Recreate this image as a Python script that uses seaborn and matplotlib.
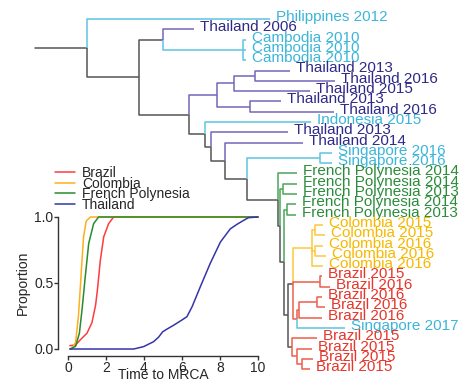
import pandas as pd
import matplotlib
matplotlib.use('Agg')
import matplotlib.pyplot as plt
import seaborn as sns

# Dados das pontas da árvore (de cima para baixo)
tip_labels = ['Philippines 2012', 'Thailand 2006',
              'Cambodia 2010', 'Cambodia 2010', 'Cambodia 2010',
              'Thailand 2013', 'Thailand 2016', 'Thailand 2015',
              'Thailand 2013', 'Thailand 2016', 'Indonesia 2015',
              'Thailand 2013', 'Thailand 2014',
              'Singapore 2016', 'Singapore 2016',
              'French Polynesia 2014', 'French Polynesia 2014',
              'French Polynesia 2013', 'French Polynesia 2014',
              'French Polynesia 2013',
              'Colombia 2015', 'Colombia 2015', 'Colombia 2016',
              'Colombia 2016', 'Colombia 2016',
              'Brazil 2015', 'Brazil 2016', 'Brazil 2016', 'Brazil 2016',
              'Brazil 2016', 'Singapore 2017',
              'Brazil 2015', 'Brazil 2015', 'Brazil 2015', 'Brazil 2015']
tip_group = ['asia', 'thai', 'asia', 'asia', 'asia',
             'thai', 'thai', 'thai', 'thai', 'thai', 'asia',
             'thai', 'thai', 'asia', 'asia',
             'fp', 'fp', 'fp', 'fp', 'fp',
             'col', 'col', 'col', 'col', 'col',
             'bra', 'bra', 'bra', 'bra', 'bra', 'asia',
             'bra', 'bra', 'bra', 'bra']
tip_depth = [23.5, 15.9, 21.1, 21.1, 21.1,
             25.5, 30.0, 27.5, 24.6, 29.9, 27.6,
             25.3, 26.8, 29.7, 29.7,
             26.2, 26.2, 26.2, 26.1, 26.1,
             28.8, 29.0, 28.8, 29.1, 28.8,
             28.7, 29.5, 28.7, 29.0, 28.7, 31.0,
             28.2, 27.7, 27.8, 27.5]

# Nós internos: profundidade, filhos e cor do ramo
node_names = ['root', 'N1', 'N2', 'CAM', 'N5', 'N6', 'N7', 'N8', 'N10',
              'N9', 'N11', 'N12', 'N13', 'SG', 'N14', 'N15', 'FP1', 'N16',
              'FP2', 'N17', 'Y', 'COL', 'CA', 'CB', 'B1', 'W', 'B2', 'B2a',
              'Z', 'Z1', 'Z2']
node_depth = [5.2, 10.4, 12.8, 20.8, 15.4, 18.2, 19.9, 22.0, 21.5,
              17.0, 17.6, 19.0, 21.2, 28.5, 24.3, 24.5, 24.8, 24.9,
              25.2, 25.3, 25.8, 27.7, 28.0, 28.0, 28.5, 26.2, 26.4, 28.2,
              25.7, 26.2, 26.7]
node_children = [[0, 'N1'], ['N2', 'N5'], [1, 'CAM'], [2, 3, 4],
                 ['N6', 'N9'], ['N7', 'N10'], ['N8', 7], [5, 6], [8, 9],
                 [10, 'N11'], [11, 'N12'], [12, 'N13'], ['SG', 'N14'],
                 [13, 14], [15, 'N15'], ['FP1', 'N16'], [16, 17],
                 ['FP2', 'N17'], [18, 19], ['Y', 'Z'],
                 ['COL', 'B1', 'W'], ['CA', 'CB', 24], [20, 21], [22, 23],
                 [25, 26], ['B2', 30], ['B2a', 29], [27, 28],
                 [31, 'Z1'], [32, 'Z2'], [33, 34]]
node_group = ['grey', 'grey', 'grey', 'asia', 'grey', 'thai', 'thai',
              'thai', 'thai', 'grey', 'grey', 'grey', 'grey', 'asia',
              'grey', 'grey', 'fp', 'grey', 'fp', 'grey', 'grey', 'col',
              'col', 'col', 'bra', 'bra', 'bra', 'bra', 'grey', 'bra', 'bra']

line_col = {'grey': '#555555', 'asia': '#5EC4E2', 'thai': '#7466BC',
            'fp': '#4AA558', 'col': '#FCC73C', 'bra': '#EE5E4C'}
text_col = {'asia': '#3CB6D8', 'thai': '#2E2A88', 'fp': '#2B8C3B',
            'col': '#F6B800', 'bra': '#E6352A'}

# Curvas de tempo até o MRCA
brazil_t = [0.1, 0.4, 0.65, 1.0, 1.26, 1.45, 1.55, 1.7, 1.88, 2.14, 2.4, 10]
brazil_p = [0.025, 0.03, 0.07, 0.12, 0.2, 0.33, 0.45, 0.67, 0.85, 0.95, 1.0, 1.0]
colombia_t = [0.2, 0.4, 0.55, 0.65, 0.75, 0.82, 0.96, 1.18, 10]
colombia_p = [0.0, 0.05, 0.25, 0.47, 0.7, 0.85, 0.97, 1.0, 1.0]
fp_t = [0.1, 0.4, 0.6, 0.74, 0.91, 1.09, 1.35, 1.61, 10]
fp_p = [0.0, 0.02, 0.12, 0.3, 0.55, 0.8, 0.95, 1.0, 1.0]
thai_t = [0.1, 3.46, 3.98, 4.5, 4.77, 4.98, 5.2, 5.56, 6.0, 6.26, 6.53,
          6.96, 7.49, 8.02, 8.54, 8.9, 9.25, 9.5, 10]
thai_p = [0, 0, 0.018, 0.055, 0.09, 0.13, 0.15, 0.18, 0.22, 0.245, 0.32,
          0.47, 0.65, 0.81, 0.91, 0.945, 0.975, 0.995, 1.0]

countries = ['Brazil', 'Colombia', 'French Polynesia', 'Thailand']
curve_col = ['#FF3B3B', '#FFAF1A', '#2A8A2E', '#3535A8']

sns.set_style('ticks')
plt.rcParams['font.family'] = ['Liberation Sans', 'DejaVu Sans']

fig = plt.figure(figsize=(4.67, 3.8), dpi=100)

# --- árvore ---
ax = fig.add_axes([0, 0, 1, 1])
ax.set_axis_off()
ax.set_xlim(-3.5, 43.2)
ax.set_ylim(35.05, -1.845)

idx = {n: i for i, n in enumerate(node_names)}


def y_of(c):
    if isinstance(c, int):
        return float(c)
    ys = [y_of(k) for k in node_children[idx[c]]]
    return (min(ys) + max(ys)) / 2


def depth_of(c):
    return tip_depth[c] if isinstance(c, int) else node_depth[idx[c]]


def group_of(c):
    return tip_group[c] if isinstance(c, int) else node_group[idx[c]]


root_y = y_of('root')
ax.plot([0, node_depth[0]], [root_y, root_y], color=line_col['grey'], lw=1.1)
for name, d, kids in zip(node_names, node_depth, node_children):
    yn = y_of(name)
    for c in kids:
        yc = y_of(c)
        ax.plot([d, d, depth_of(c)], [yn, yc, yc],
                color=line_col[group_of(c)], lw=1.1, solid_capstyle='butt')

for i, lab in enumerate(tip_labels):
    ax.annotate(lab, (tip_depth[i], i), xytext=(4, 1.5),
                textcoords='offset points', va='center', ha='left',
                fontsize=11, color=text_col[tip_group[i]])

# --- gráfico inserido ---
df = pd.concat([
    pd.DataFrame({'time': brazil_t, 'prop': brazil_p, 'country': 'Brazil'}),
    pd.DataFrame({'time': colombia_t, 'prop': colombia_p, 'country': 'Colombia'}),
    pd.DataFrame({'time': fp_t, 'prop': fp_p, 'country': 'French Polynesia'}),
    pd.DataFrame({'time': thai_t, 'prop': thai_p, 'country': 'Thailand'}),
])

ax2 = fig.add_axes([68 / 467, 1 - 349 / 380, 190 / 467, 132 / 380])
ax2.patch.set_alpha(0)
sns.lineplot(data=df, x='time', y='prop', hue='country', hue_order=countries,
             palette=curve_col, estimator=None, sort=False, lw=1.1, ax=ax2)
for ln in ax2.lines:
    ln.set_clip_on(False)
ax2.set_xlim(0, 10)
ax2.set_ylim(0, 1)
ax2.set_xticks([0, 2, 4, 6, 8, 10])
ax2.set_yticks([0, 0.5, 1])
ax2.set_yticklabels(['0.0', '0.5', '1.0'])
for s in ['top', 'right']:
    ax2.spines[s].set_visible(False)
ax2.spines['left'].set_position(('outward', 7))
ax2.spines['bottom'].set_position(('outward', 5))
ax2.spines['left'].set_bounds(0, 1)
ax2.spines['bottom'].set_bounds(0, 10)
for s in ['left', 'bottom']:
    ax2.spines[s].set_color('#333333')
    ax2.spines[s].set_linewidth(1.0)
ax2.tick_params(length=3, width=1.0, labelsize=10, pad=0.5, color='#333333')
ax2.set_xlabel('Time to MRCA', fontsize=10, labelpad=-5)
ax2.set_ylabel('Proportion', fontsize=10, labelpad=3)

handles = ax2.get_legend().legend_handles
ax2.legend(handles, countries, loc='upper left',
           bbox_to_anchor=(55 / 467, 1 - 166 / 380),
           bbox_transform=fig.transFigure, frameon=False, fontsize=10,
           handlelength=1.45, handletextpad=0.5, labelspacing=-0.25,
           borderpad=0, borderaxespad=0)

fig.savefig('out.png', dpi=100)
